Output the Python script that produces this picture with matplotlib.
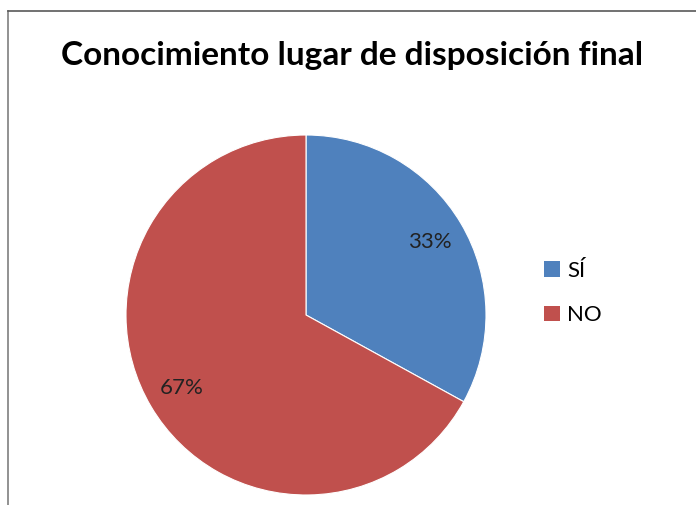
import matplotlib.pyplot as plt
from matplotlib.lines import Line2D
from matplotlib.patches import Patch

categories = ["SÍ", "NO"]
values = [33, 67]
colors = ["#4F81BD", "#C0504D"]
title = "Conocimiento lugar de disposición final"

plt.rcParams['font.family'] = ['Lato', 'DejaVu Sans']

fig = plt.figure(figsize=(6.96, 5.05), dpi=100)

# chart frame (left + top edges visible, rest cut off)
fig.add_artist(Line2D([8 / 696, 8 / 696], [0, 1 - 11 / 505], transform=fig.transFigure,
                      color="#7f7f7f", lw=1.2))
fig.add_artist(Line2D([8 / 696, 1], [1 - 11 / 505, 1 - 11 / 505], transform=fig.transFigure,
                      color="#595959", lw=1.2))

ax = fig.add_axes([126 / 696, 1 - 495 / 505, 360 / 696, 360 / 505])
wedges, texts, autotexts = ax.pie(
    values, colors=colors, startangle=90, counterclock=False,
    autopct="%d%%", pctdistance=0.8,
    wedgeprops=dict(edgecolor="white", linewidth=0.8),
    textprops=dict(fontsize=16, color="#222222"),
)
ax.set_xlim(-1, 1)
ax.set_ylim(-1, 1)
ax.set_aspect("equal")

fig.text(352 / 696, 1 - 56 / 505, title, ha="center", va="center",
         fontsize=24, fontweight="bold")

handles = [Patch(facecolor=c, edgecolor="none") for c in colors]
fig.legend(handles, categories, loc="center left", bbox_to_anchor=(524 / 696, 1 - 293 / 505),
           frameon=False, fontsize=16, handlelength=0.7, handleheight=0.7,
           handletextpad=0.35, labelspacing=1.1)

fig.savefig("out.png", dpi=100)
